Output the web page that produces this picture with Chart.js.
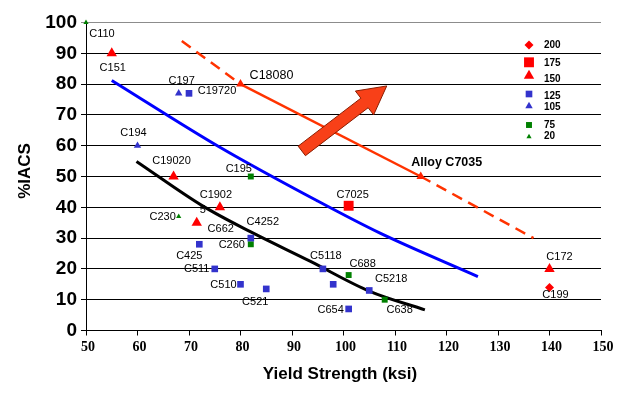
<!DOCTYPE html>
<html><head><meta charset="utf-8">
<script src="https://cdn.jsdelivr.net/npm/chart.js@4.4.1/dist/chart.umd.min.js"></script>
<style>html,body{margin:0;padding:0;background:#fff;}#wrap{width:634px;height:400px;}</style>
</head><body><div id="wrap"><canvas id="c" width="634" height="400"></canvas></div>
<script>
// ---- data ----
const seriesNames = ['200','175','150','125','105','75','20'];

const s200Names = ['C199'];  const s200Ksi = [140]; const s200Iacs = [14];
const s175Names = ['C7025']; const s175Ksi = [101]; const s175Iacs = [40.5];
const s150Names = ['C151','C19020','C1902','C662','C172'];
const s150Ksi   = [55, 67, 76, 71.5, 140];
const s150Iacs  = [90, 50, 40, 35, 20];
const s125Names = ['C19720','C425','C511','C510','C521','C4252','C5118','','C654','C5218'];
const s125Ksi   = [70, 72, 75, 80, 85, 82, 96, 98, 101, 105];
const s125Iacs  = [77, 28, 20, 15, 13.5, 30, 20, 15, 7, 13];
const s105Names = ['C197','C194']; const s105Ksi = [68, 60]; const s105Iacs = [77, 60];
const s75Names  = ['C195','C260','C688','C638'];
const s75Ksi    = [82, 82, 101, 108];
const s75Iacs   = [50, 28, 18, 10];
const s20Names  = ['C110','C230']; const s20Ksi = [50, 68]; const s20Iacs = [100, 37];

const blueKsi  = [55, 76, 94.8, 107.1, 126.1];
const blueIacs = [81.2, 59.5, 42.2, 31.6, 17.5];
const blackKsi  = [59.8, 72.8, 82, 93.5, 105.1, 115.8];
const blackIacs = [54.9, 40.3, 32, 22.5, 12.7, 6.7];
const orangeNames = ['', 'C18080', 'Alloy C7035', ''];
const orangeKsi   = [68.6, 80, 115, 136.9];
const orangeIacs  = [94, 80, 50, 30];

const arrowKsi  = [91.9, 108.4];
const arrowIacs = [58.3, 79.4];
const extraText = ['5']; const extraKsi = [72.7]; const extraIacs = [39.2];

const xTitle = 'Yield Strength (ksi)';
const yTitle = '%IACS';

// ---- helpers ----
const pts = (xs, ys) => xs.map((v, i) => ({x: v, y: ys[i]}));
const SANS = '"Liberation Sans", Arial, sans-serif';
const RED = '#FF0000', BLUE = '#3333CC', GREEN = '#008000';

const labelOffsets = {
  C110:[16,11], C151:[1,15], C197:[3,-12], C19720:[28,-2], C194:[-4,-13],
  C19020:[-2,-16], C195:[-12,-8], C1902:[-4,-12], C230:[-16,0], C662:[24,6],
  C4252:[12,-16], C260:[-19,1], C425:[-10,12], C511:[-18,0], C510:[-17,1],
  C521:[-11,13], C5118:[3,-13], C688:[14,-11], C5218:[22,-11], C654:[-18,1],
  C638:[15,10], C7025:[4,-11], C18080:[31,-9], 'Alloy C7035':[26,-14],
  C172:[10,-12], C199:[6,8]
};
const labelFonts = {
  C18080: '12.5px ' + SANS,
  'Alloy C7035': 'bold 12.5px ' + SANS
};

const scatterDs = (label, names, xs, ys, color, style, r) => ({
  type: 'scatter', label, names, data: pts(xs, ys),
  pointStyle: style, pointRadius: r, pointHoverRadius: r,
  backgroundColor: color, borderColor: color, borderWidth: 0, showLine: false,
  legendItem: true, order: 0, clip: false
});

const datasets = [
  {type:'line', label:'blue', data: pts(blueKsi, blueIacs), borderColor:'#0000FF', borderWidth:3,
   pointRadius:0, tension:0.4, cubicInterpolationMode:'monotone', fill:false, order:2},
  {type:'line', label:'black', data: pts(blackKsi, blackIacs), borderColor:'#000', borderWidth:3,
   pointRadius:0, cubicInterpolationMode:'monotone', fill:false, order:2},
  {type:'line', label:'orange', names: orangeNames, data: pts(orangeKsi, orangeIacs), borderColor:'#FF3300', borderWidth:2.5,
   pointRadius:[0,5,5,0], pointStyle:'triangle', pointBackgroundColor:'#FF2200', pointBorderWidth:0,
   fill:false, tension:0, order:2,
   segment:{borderDash: c => (c.p0DataIndex === 0 || c.p1DataIndex === 3) ? [11,7] : undefined}},
  scatterDs(seriesNames[0], s200Names, s200Ksi, s200Iacs, RED, 'rectRot', 4.5),
  scatterDs(seriesNames[1], s175Names, s175Ksi, s175Iacs, RED, 'rect', 7),
  scatterDs(seriesNames[2], s150Names, s150Ksi, s150Iacs, RED, 'triangle', 6),
  scatterDs(seriesNames[3], s125Names, s125Ksi, s125Iacs, BLUE, 'rect', 4.7),
  scatterDs(seriesNames[4], s105Names, s105Ksi, s105Iacs, BLUE, 'triangle', 4.3),
  scatterDs(seriesNames[5], s75Names, s75Ksi, s75Iacs, GREEN, 'rect', 4.2),
  scatterDs(seriesNames[6], s20Names, s20Ksi, s20Iacs, GREEN, 'triangle', 3)
];

const annot = {
  id: 'annot',
  afterDatasetsDraw(chart) {
    const {ctx, scales: {x, y}} = chart;
    ctx.save();
    // arrow
    const x0 = x.getPixelForValue(arrowKsi[0]), y0 = y.getPixelForValue(arrowIacs[0]);
    const x1 = x.getPixelForValue(arrowKsi[1]), y1 = y.getPixelForValue(arrowIacs[1]);
    const dx = x1 - x0, dy = y1 - y0, L = Math.hypot(dx, dy);
    const ux = dx / L, uy = dy / L, nx = -uy, ny = ux;
    const sw = 6, hw = 15, hl = 28;
    const bx = x1 - ux * hl, by = y1 - uy * hl;
    ctx.beginPath();
    ctx.moveTo(x0 + nx * sw, y0 + ny * sw);
    ctx.lineTo(bx + nx * sw, by + ny * sw);
    ctx.lineTo(bx + nx * hw, by + ny * hw);
    ctx.lineTo(x1, y1);
    ctx.lineTo(bx - nx * hw, by - ny * hw);
    ctx.lineTo(bx - nx * sw, by - ny * sw);
    ctx.lineTo(x0 - nx * sw, y0 - ny * sw);
    ctx.closePath();
    ctx.fillStyle = '#F84018'; ctx.fill();
    ctx.strokeStyle = '#8A1C00'; ctx.lineWidth = 1; ctx.stroke();

    // point labels
    ctx.fillStyle = '#000'; ctx.textAlign = 'center'; ctx.textBaseline = 'middle';
    chart.data.datasets.forEach(ds => {
      if (!ds.names) return;
      ds.data.forEach((p, i) => {
        const n = ds.names[i]; if (!n) return;
        const off = labelOffsets[n] || [0, -12];
        ctx.font = labelFonts[n] || ('11px ' + SANS);
        ctx.fillText(n, x.getPixelForValue(p.x) + off[0], y.getPixelForValue(p.y) + off[1]);
      });
    });
    ctx.font = '11px ' + SANS;
    extraText.forEach((t, i) => ctx.fillText(t, x.getPixelForValue(extraKsi[i]), y.getPixelForValue(extraIacs[i])));

    // legend
    const legMarkY = [45, 62.3, 75.7, 94, 106, 125, 136.7];
    const legTextY = [45.5, 63.5, 79.5, 96.5, 107.5, 125, 136.7];
    ctx.textAlign = 'left';
    ctx.font = 'bold 10px ' + SANS;
    chart.data.datasets.filter(d => d.legendItem).forEach((d, i) => {
      ctx.fillStyle = d.backgroundColor; ctx.strokeStyle = d.backgroundColor;
      Chart.helpers.drawPoint(ctx, {pointStyle: d.pointStyle, radius: d.pointRadius, rotation: 0, borderWidth: 0}, 529, legMarkY[i]);
      ctx.fillStyle = '#000';
      ctx.fillText(d.label, 544, legTextY[i]);
    });

    // axis titles
    ctx.fillStyle = '#000';
    ctx.textAlign = 'center';
    ctx.font = 'bold 17px ' + SANS;
    ctx.fillText(xTitle, 340, 374);
    ctx.translate(25, 171); ctx.rotate(-Math.PI / 2);
    ctx.fillText(yTitle, 0, 0);
    ctx.restore();
  }
};

new Chart(document.getElementById('c'), {
  data: {datasets},
  options: {
    responsive: false, animation: false, devicePixelRatio: 1,
    layout: {padding: {top: 22.5, right: 33, left: 0, bottom: 0}},
    plugins: {legend: {display: false}, tooltip: {enabled: false}, title: {display: false}},
    scales: {
      x: {type: 'linear', min: 50, max: 150,
        ticks: {stepSize: 10, color: '#000', padding: 3, labelOffset: 2, maxRotation: 0,
          font: {family: '"Liberation Serif", "Times New Roman", serif', size: 14, weight: 'bold'}},
        grid: {drawOnChartArea: false, drawTicks: true, tickLength: 5, color: '#000'},
        border: {color: '#000', width: 1},
        afterFit(s) { s.height = 69.5; }
      },
      y: {type: 'linear', min: 0, max: 100,
        ticks: {stepSize: 10, color: '#000', padding: 4,
          font: {family: SANS, size: 19, weight: 'bold'}},
        grid: {color: c => (c.tick && c.tick.value === 100) ? '#8c8c8c' : '#000', lineWidth: 1, tickLength: 5},
        border: {color: '#000', width: 1},
        afterFit(s) { s.width = 86; }
      }
    }
  },
  plugins: [annot]
});
</script></body></html>
